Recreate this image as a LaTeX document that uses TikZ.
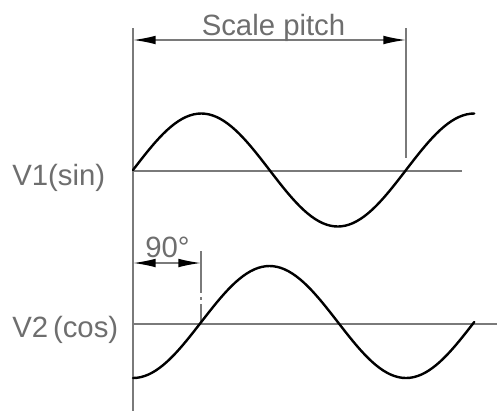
\documentclass[tikz,border=0pt]{standalone}
\usepackage{fontspec}
\setmainfont{Liberation Sans}
\usetikzlibrary{arrows.meta}
\definecolor{txtgray}{HTML}{6E6E6E}
\definecolor{lngray}{HTML}{7A7A7A}
\tikzset{
  lbl/.style={text=txtgray, font=\fontsize{22}{24}\selectfont, inner sep=0pt},
  axisline/.style={draw=lngray, line width=1.1pt},
  wave/.style={draw=black, line width=1.8pt, line cap=round, line join=round},
  dimtip/.style={Latex[length=17pt,width=6.5pt,color=black]},
  dimline/.style={draw=lngray, line width=1.1pt, {Latex[length=17pt,width=6.5pt,color=black]}-{Latex[length=17pt,width=6.5pt,color=black]}},
}
\begin{document}
\begin{tikzpicture}[x=0.75pt, y=-0.75pt]
\useasboundingbox[fill=white] (0,0) rectangle (498,411);
% coordinates
\coordinate (lt) at (133,28);
\coordinate (lb) at (133,411);
\coordinate (rt) at (406,28);
\coordinate (rb) at (406,158);
\coordinate (d1l) at (133,40);
\coordinate (d1r) at (406,40);
\coordinate (a1l) at (133,171);
\coordinate (a1r) at (462,171);
\coordinate (a2l) at (133,324);
\coordinate (a2r) at (497,324);
\coordinate (nt) at (201,251);
\coordinate (nb) at (201,324);
\coordinate (d2l) at (133,263);
\coordinate (d2r) at (201,263);
% lines
\draw[axisline] (lt) -- (lb);
\draw[axisline] (rt) -- (rb);
\draw[axisline] (a1l) -- (a1r);
\draw[axisline] (a2l) -- (a2r);
\draw[axisline, dash pattern=on 31.5pt off 3pt on 2.25pt off 3pt on 40pt] (nt) -- (nb);
\draw[dimline] (d1l) -- (d1r);
\draw[dimline] (d2l) -- (d2r);
% waves
\draw[wave] plot[domain=0:450, samples=91] ({133+(\x/360)*273}, {170-56.5*sin(\x)});
\draw[wave] plot[domain=0:450, samples=91] ({133+(\x/360)*273}, {322+56*cos(\x)});
% labels
\node[lbl, anchor=base] (sp) at (273.5,35) {Scale pitch};
\node[lbl, anchor=base west] (v1) at (12,185) {V1(sin)};
\node[lbl, anchor=base west] (v2) at (12,337) {V2\,(cos)};
\node[lbl, anchor=base west] (ninety) at (145,257) {90°};
\end{tikzpicture}
\end{document}
